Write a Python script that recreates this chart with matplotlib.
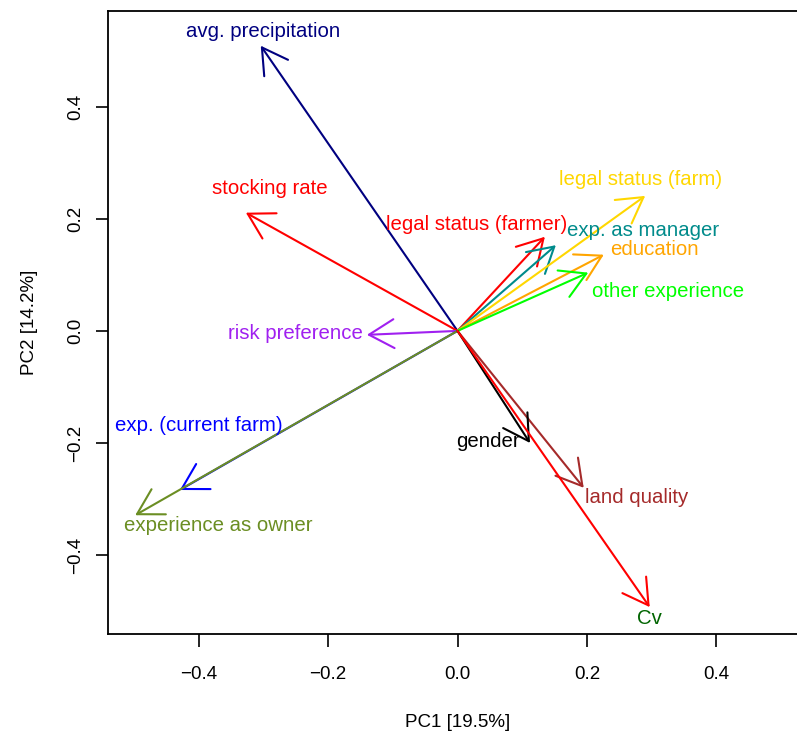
import matplotlib
matplotlib.use("Agg")
import matplotlib.pyplot as plt

plt.rcParams['font.family'] = ['Liberation Sans', 'DejaVu Sans']

variables = ["avg. precipitation", "stocking rate", "risk preference",
             "exp. (current farm)", "experience as owner", "legal status (farmer)",
             "exp. as manager", "legal status (farm)", "education",
             "other experience", "land quality", "gender", "Cv"]
pc1 = [-0.304, -0.327, -0.140, -0.429, -0.498, 0.135, 0.152, 0.290, 0.226,
       0.202, 0.195, 0.112, 0.297]
pc2 = [0.509, 0.211, -0.007, -0.284, -0.329, 0.168, 0.153, 0.241, 0.136,
       0.104, -0.280, -0.200, -0.493]
label_x = [-0.301, -0.290, -0.251, -0.399, -0.370, 0.029, 0.286, 0.283, 0.305,
           0.325, 0.277, 0.047, 0.297]
label_y = [0.534, 0.254, -0.005, -0.168, -0.348, 0.190, 0.179, 0.271, 0.146,
           0.070, -0.298, -0.198, -0.514]
arrow_colors = ["#000080", "#FF0000", "#A020F0", "#0000FF", "#6B8E23", "#FF0000",
                "#008B8B", "#FFD700", "#FFA500", "#00FF00", "#A52A2A", "#000000",
                "#FF0000"]
label_colors = ["#000080", "#FF0000", "#A020F0", "#0000FF", "#6B8E23", "#FF0000",
                "#008B8B", "#FFD700", "#FFA500", "#00FF00", "#A52A2A", "#000000",
                "#006400"]
xticks = [-0.4, -0.2, 0.0, 0.2, 0.4]
yticks = [-0.4, -0.2, 0.0, 0.2, 0.4]
xlabel = "PC1 [19.5%]"
ylabel = "PC2 [14.2%]"

fig = plt.figure(figsize=(7.97, 7.32), dpi=100)
ax = fig.add_axes([108/797, 98/732, 699/797, 623/732])
ax.set_xlim(-0.54, 0.54)
ax.set_ylim(-0.541, 0.571)

for x, y, c in zip(pc1, pc2, arrow_colors):
    ax.annotate("", xy=(x, y), xytext=(0, 0),
                arrowprops=dict(arrowstyle="->,head_length=18,head_width=10.4",
                                color=c, lw=1.5, shrinkA=0, shrinkB=0,
                                mutation_scale=1))
for name, x, y, c in zip(variables, label_x, label_y, label_colors):
    ax.text(x, y, name, color=c, ha="center", va="center", fontsize=14.7)

ax.set_xticks(xticks)
ax.set_yticks(yticks)
ax.set_xticklabels([f"{t:.1f}".replace("-", "\u2212") for t in xticks], fontsize=13.5)
ax.set_yticklabels([f"{t:.1f}".replace("-", "\u2212") for t in yticks], fontsize=13.5,
                   rotation=90, va="center")
ax.tick_params(direction="out", length=9, width=1.2)
ax.tick_params(axis="x", pad=13.8)
ax.tick_params(axis="y", pad=8)
ax.spines["right"].set_visible(False)
for s in ax.spines.values():
    s.set_linewidth(1.3)
ax.set_xlabel(xlabel, fontsize=13.5, labelpad=22.3)
ax.set_ylabel(ylabel, fontsize=13.5, labelpad=21)

fig.savefig("out.png", dpi=100)
